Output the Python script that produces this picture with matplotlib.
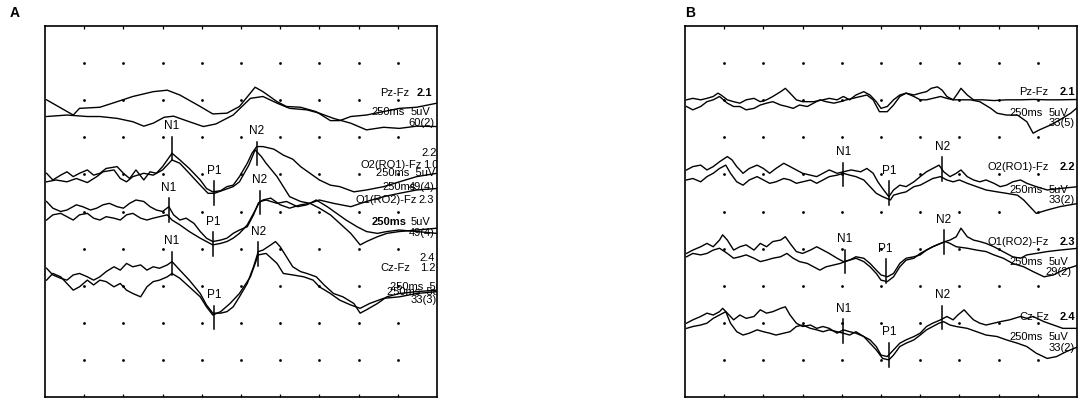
import numpy as np
import matplotlib
matplotlib.use("Agg")
import matplotlib.pyplot as plt

plt.rcParams["font.family"] = ["Liberation Sans", "DejaVu Sans"]

# traces: (time in ms, level in screen divisions), 25 ms / division, 10 divisions
A_PZ_1 = [(1, 8.01), (18, 7.60), (22, 7.78), (35, 7.81), (46, 7.96), (56, 8.10), (69, 8.23), (78, 8.27),
          (86, 8.14), (99, 7.83), (107, 7.63), (116, 7.65), (124, 7.83), (134, 8.35), (139, 8.23), (148, 7.96),
          (154, 7.83), (163, 7.81), (173, 7.69), (182, 7.45), (188, 7.45), (195, 7.56), (205, 7.60), (226, 7.78),
          (237, 7.81), (250, 7.92)]
A_PZ_2 = [(1, 7.56), (14, 7.60), (27, 7.56), (35, 7.56), (46, 7.51), (56, 7.42), (63, 7.30), (69, 7.38),
          (76, 7.54), (82, 7.57), (90, 7.45), (101, 7.29), (109, 7.36), (120, 7.60), (131, 8.05), (139, 8.10),
          (148, 7.92), (156, 7.78), (167, 7.74), (175, 7.65), (184, 7.51), (195, 7.38), (205, 7.20), (216, 7.27),
          (226, 7.24), (237, 7.30), (250, 7.29)]
A_O2_1 = [(1, 6.03), (5, 5.85), (10, 5.98), (14, 6.07), (18, 5.94), (22, 6.03), (27, 6.12), (31, 5.98),
          (35, 6.03), (39, 6.16), (46, 6.21), (50, 6.03), (54, 5.89), (58, 6.12), (63, 5.85), (67, 6.07),
          (71, 6.03), (75, 6.21), (81, 6.57), (86, 6.39), (92, 6.16), (99, 5.85), (103, 5.62), (107, 5.53),
          (112, 5.56), (116, 5.67), (120, 5.71), (124, 5.94), (129, 6.30), (132, 6.57), (135, 6.75), (139, 6.75),
          (146, 6.68), (152, 6.52), (158, 6.41), (163, 6.21), (169, 6.03), (175, 5.85), (182, 5.71), (188, 5.67),
          (197, 5.53), (205, 5.58), (216, 5.67), (226, 5.80), (237, 5.94), (250, 6.03)]
A_O2_2 = [(1, 5.80), (7, 5.85), (14, 5.80), (20, 5.89), (27, 5.78), (33, 5.94), (37, 6.07), (44, 6.12),
          (48, 5.89), (52, 5.80), (56, 5.94), (63, 6.03), (69, 5.98), (75, 6.12), (81, 6.39), (86, 6.30),
          (92, 6.03), (99, 5.71), (104, 5.49), (108, 5.49), (114, 5.58), (120, 5.67), (124, 5.80), (130, 6.25),
          (134, 6.66), (138, 6.48), (141, 6.30), (148, 5.94), (152, 5.67), (156, 5.40), (163, 5.27), (169, 5.22),
          (175, 5.31), (184, 5.22), (195, 5.13), (205, 5.27), (216, 5.40), (226, 5.49), (237, 5.58), (250, 5.62)]
A_O1_1 = [(1, 5.27), (5, 5.09), (10, 5.00), (14, 5.04), (20, 5.18), (24, 5.13), (29, 5.04), (33, 5.09),
          (37, 5.18), (41, 5.22), (46, 5.13), (50, 5.09), (54, 5.22), (58, 5.31), (63, 5.27), (67, 5.13),
          (71, 5.04), (75, 5.00), (79, 5.13), (82, 4.91), (86, 4.77), (90, 4.82), (95, 4.68), (99, 4.46),
          (103, 4.28), (107, 4.19), (112, 4.23), (116, 4.28), (120, 4.41), (124, 4.50), (129, 4.59), (133, 4.91),
          (136, 5.22), (139, 5.31), (144, 5.36), (150, 5.18), (156, 5.09), (163, 5.18), (169, 5.22), (175, 5.09),
          (182, 4.91), (188, 4.68), (195, 4.41), (201, 4.10), (205, 4.19), (212, 4.32), (218, 4.41), (226, 4.46),
          (237, 4.50), (250, 4.55)]
A_O1_2 = [(1, 4.77), (5, 4.91), (10, 4.95), (14, 4.86), (18, 4.77), (22, 4.91), (27, 4.95), (31, 4.82),
          (35, 4.77), (39, 4.86), (44, 4.82), (48, 4.77), (52, 4.91), (56, 4.95), (61, 4.82), (65, 4.77),
          (69, 4.82), (73, 4.86), (78, 4.91), (81, 4.77), (86, 4.64), (92, 4.46), (99, 4.28), (103, 4.19),
          (107, 4.10), (112, 4.14), (116, 4.19), (120, 4.28), (124, 4.41), (129, 4.64), (133, 4.95), (137, 5.27),
          (141, 5.31), (148, 5.22), (154, 5.27), (161, 5.13), (167, 5.18), (173, 5.31), (180, 5.13), (186, 4.95),
          (192, 4.77), (199, 4.59), (205, 4.46), (212, 4.41), (218, 4.46), (226, 4.50), (237, 4.46), (250, 4.41)]
A_CZ_1 = [(1, 3.47), (5, 3.29), (10, 3.20), (14, 3.15), (18, 3.29), (22, 3.33), (27, 3.24), (31, 3.15),
          (35, 3.24), (39, 3.38), (44, 3.51), (48, 3.42), (52, 3.60), (56, 3.51), (61, 3.56), (65, 3.42),
          (69, 3.51), (73, 3.47), (78, 3.56), (81, 3.65), (86, 3.42), (92, 3.15), (99, 2.79), (103, 2.48),
          (107, 2.26), (112, 2.26), (116, 2.30), (120, 2.43), (124, 2.70), (129, 3.06), (133, 3.51), (136, 3.92),
          (139, 3.96), (144, 4.10), (147, 4.19), (150, 4.05), (154, 3.78), (158, 3.51), (163, 3.38), (167, 3.33),
          (173, 3.24), (178, 3.02), (184, 2.79), (190, 2.70), (197, 2.52), (201, 2.26), (205, 2.35), (212, 2.52),
          (218, 2.70), (226, 2.79), (237, 2.84), (250, 2.88)]
A_CZ_2 = [(1, 3.15), (5, 3.33), (10, 3.24), (14, 3.06), (18, 2.88), (22, 2.97), (27, 3.15), (31, 3.02),
          (35, 3.15), (39, 3.11), (44, 2.97), (48, 3.06), (52, 2.88), (56, 2.79), (61, 2.70), (65, 2.97),
          (69, 3.11), (73, 3.15), (78, 3.24), (81, 3.33), (86, 3.20), (92, 2.97), (99, 2.70), (103, 2.43),
          (107, 2.21), (112, 2.30), (118, 2.52), (124, 2.79), (131, 3.24), (136, 3.83), (141, 3.87), (148, 3.60),
          (152, 3.33), (158, 3.29), (165, 3.24), (171, 3.15), (175, 2.97), (182, 2.79), (188, 2.61), (195, 2.48),
          (201, 2.39), (207, 2.52), (216, 2.66), (226, 2.70), (237, 2.79), (250, 2.84)]

B_PZ_1 = [(1, 8.01), (5, 8.05), (10, 8.01), (14, 8.05), (18, 8.10), (21, 8.19), (23, 8.14), (27, 8.01),
          (31, 7.96), (35, 7.92), (39, 8.01), (44, 8.05), (48, 7.96), (52, 8.01), (56, 8.10), (61, 8.23),
          (64, 8.32), (67, 8.19), (71, 8.01), (75, 7.96), (82, 7.96), (88, 8.01), (92, 8.05), (97, 8.01),
          (101, 8.10), (105, 8.01), (109, 8.14), (114, 8.23), (118, 8.14), (122, 7.96), (125, 7.78), (129, 7.83),
          (133, 8.01), (137, 8.14), (141, 8.19), (146, 8.14), (150, 8.19), (154, 8.23), (157, 8.32), (161, 8.36),
          (164, 8.27), (167, 8.10), (171, 8.01), (174, 8.19), (176, 8.32), (180, 8.14), (184, 8.01), (190, 8.01),
          (197, 7.99), (205, 8.01), (214, 8.01), (222, 8.02), (231, 8.01), (239, 8.01), (251, 8.02)]
B_PZ_2 = [(1, 7.83), (5, 7.74), (10, 7.83), (14, 7.96), (18, 8.01), (22, 8.10), (27, 7.92), (31, 7.83),
          (35, 7.83), (39, 7.74), (44, 7.78), (48, 7.87), (52, 7.92), (56, 7.96), (61, 7.87), (65, 7.83),
          (69, 7.78), (73, 7.87), (78, 7.83), (82, 7.92), (86, 8.01), (90, 7.96), (95, 7.92), (99, 7.96),
          (103, 8.01), (107, 8.05), (112, 8.10), (116, 8.14), (120, 8.01), (124, 7.69), (129, 7.69), (133, 7.87),
          (137, 8.10), (141, 8.19), (146, 8.10), (150, 8.01), (154, 8.01), (158, 8.05), (163, 8.10), (167, 8.05),
          (171, 8.01), (175, 8.01), (182, 8.01), (188, 7.96), (195, 7.78), (199, 7.65), (205, 7.60), (212, 7.60),
          (218, 7.42), (222, 7.11), (226, 7.20), (233, 7.33), (239, 7.47), (246, 7.65), (251, 7.83)]
B_O2_1 = [(1, 6.12), (5, 6.21), (10, 6.25), (14, 6.12), (18, 6.21), (22, 6.34), (27, 6.48), (30, 6.39),
          (33, 6.21), (37, 6.03), (41, 6.16), (46, 6.25), (50, 6.16), (54, 6.03), (58, 6.16), (63, 6.30),
          (67, 6.21), (71, 6.12), (75, 6.03), (80, 5.98), (84, 5.94), (88, 6.03), (92, 6.12), (97, 6.03),
          (101, 6.07), (106, 6.12), (112, 6.07), (116, 6.16), (120, 6.03), (123, 5.80), (126, 5.62), (130, 5.40),
          (133, 5.58), (137, 5.71), (141, 5.67), (146, 5.80), (150, 5.94), (154, 6.07), (158, 6.16), (162, 6.25),
          (165, 6.07), (169, 5.94), (173, 6.03), (176, 6.12), (180, 5.94), (184, 5.85), (188, 5.80), (192, 5.85),
          (197, 5.76), (201, 5.67), (205, 5.71), (209, 5.80), (214, 5.85), (218, 5.76), (224, 5.67), (231, 5.58),
          (239, 5.62), (251, 5.67)]
B_O2_2 = [(1, 5.85), (5, 5.89), (10, 5.80), (14, 5.94), (18, 6.03), (22, 6.16), (26, 6.25), (29, 6.03),
          (33, 5.80), (37, 5.71), (41, 5.85), (46, 5.94), (50, 5.85), (54, 5.76), (58, 5.80), (63, 5.89),
          (67, 5.85), (71, 5.76), (75, 5.80), (80, 5.85), (84, 5.76), (88, 5.85), (92, 5.94), (97, 5.98),
          (101, 6.03), (105, 5.98), (109, 5.94), (114, 5.85), (118, 5.67), (122, 5.49), (126, 5.40), (131, 5.31),
          (133, 5.44), (137, 5.49), (141, 5.53), (146, 5.67), (150, 5.71), (154, 5.80), (158, 5.89), (163, 5.94),
          (167, 5.85), (171, 5.80), (175, 5.85), (180, 5.76), (186, 5.67), (192, 5.58), (199, 5.53), (205, 5.49),
          (212, 5.44), (216, 5.31), (220, 5.13), (224, 4.95), (231, 5.04), (239, 5.13), (251, 5.22)]
B_O1_1 = [(1, 3.87), (5, 3.96), (10, 4.05), (14, 4.14), (18, 4.05), (22, 4.23), (24, 4.37), (27, 4.23),
          (31, 3.96), (35, 4.05), (39, 4.10), (44, 3.96), (48, 4.14), (52, 4.05), (56, 4.19), (61, 4.23),
          (64, 4.32), (67, 4.14), (71, 3.92), (75, 3.87), (80, 3.96), (84, 4.05), (88, 3.96), (92, 3.87),
          (97, 3.74), (101, 3.65), (105, 3.69), (109, 3.78), (114, 3.74), (118, 3.60), (122, 3.42), (125, 3.29),
          (129, 3.24), (133, 3.33), (137, 3.60), (141, 3.74), (146, 3.78), (150, 3.83), (154, 3.96), (158, 4.05),
          (163, 4.14), (166, 4.19), (169, 4.23), (173, 4.32), (176, 4.55), (180, 4.32), (184, 4.23), (188, 4.19),
          (192, 4.14), (197, 4.05), (201, 3.96), (205, 3.87), (209, 3.78), (214, 3.74), (218, 3.83), (224, 3.87),
          (231, 3.92), (239, 3.96), (251, 4.01)]
B_O1_2 = [(1, 3.78), (5, 3.87), (10, 3.83), (14, 3.87), (18, 3.96), (22, 4.01), (27, 3.87), (31, 3.74),
          (35, 3.78), (39, 3.83), (44, 3.74), (48, 3.65), (52, 3.69), (56, 3.74), (61, 3.78), (65, 3.87),
          (69, 3.74), (73, 3.65), (78, 3.60), (82, 3.51), (86, 3.42), (90, 3.51), (95, 3.56), (99, 3.60),
          (102, 3.65), (105, 3.69), (109, 3.74), (114, 3.65), (118, 3.51), (122, 3.33), (125, 3.15), (129, 3.11),
          (133, 3.24), (137, 3.51), (141, 3.69), (146, 3.74), (150, 3.87), (154, 3.96), (158, 4.05), (163, 4.14),
          (166, 4.19), (169, 4.14), (173, 4.05), (180, 4.01), (186, 3.96), (192, 3.92), (197, 3.83), (203, 3.74),
          (209, 3.60), (216, 3.51), (222, 3.38), (229, 3.24), (235, 3.29), (241, 3.42), (251, 3.56)]
B_CZ_1 = [(1, 1.99), (5, 2.08), (10, 2.17), (14, 2.26), (18, 2.21), (22, 2.30), (24, 2.39), (27, 2.26),
          (31, 2.08), (35, 2.21), (39, 2.12), (44, 2.17), (48, 2.35), (52, 2.26), (56, 2.30), (61, 2.39),
          (64, 2.43), (67, 2.21), (71, 1.99), (75, 1.90), (80, 1.94), (84, 1.85), (88, 1.90), (92, 1.85),
          (97, 1.72), (101, 1.81), (105, 1.76), (109, 1.72), (114, 1.63), (118, 1.54), (122, 1.36), (125, 1.13),
          (129, 1.09), (133, 1.27), (137, 1.45), (141, 1.54), (146, 1.63), (150, 1.72), (154, 1.90), (158, 1.99),
          (163, 2.08), (167, 2.17), (171, 2.08), (174, 2.21), (178, 2.35), (181, 2.21), (184, 2.08), (188, 1.99),
          (192, 1.94), (197, 1.99), (201, 2.03), (207, 2.08), (214, 2.17), (218, 2.12), (222, 2.17), (229, 2.03),
          (235, 1.94), (241, 1.85), (251, 1.85)]
B_CZ_2 = [(1, 1.85), (5, 1.90), (10, 1.94), (14, 1.99), (18, 2.12), (22, 2.21), (26, 2.30), (29, 1.99),
          (33, 1.76), (37, 1.67), (41, 1.72), (46, 1.81), (50, 1.76), (54, 1.72), (58, 1.67), (63, 1.72),
          (67, 1.76), (71, 1.90), (75, 1.94), (80, 1.85), (84, 1.81), (88, 1.76), (92, 1.81), (97, 1.76),
          (101, 1.72), (105, 1.67), (109, 1.76), (114, 1.63), (118, 1.45), (122, 1.27), (126, 1.04), (130, 1.00),
          (133, 1.13), (137, 1.36), (141, 1.45), (146, 1.54), (150, 1.67), (154, 1.81), (158, 1.90), (162, 1.99),
          (165, 2.03), (169, 1.94), (173, 1.90), (180, 1.85), (186, 1.76), (192, 1.67), (199, 1.63), (205, 1.54),
          (212, 1.45), (218, 1.36), (224, 1.18), (231, 1.04), (237, 1.09), (243, 1.22), (251, 1.36)]

# peak markers: (name, latency ms, level of marker centre in divisions)
A_PEAKS = [("N1", 81, 6.70), ("P1", 108, 5.49), ("N2", 135, 6.56),
           ("N1", 79, 5.04), ("P1", 107, 4.12), ("N2", 137, 5.24),
           ("N1", 81, 3.60), ("P1", 108, 2.14), ("N2", 136, 3.85)]
B_PEAKS = [("N1", 101, 6.00), ("P1", 130, 5.49), ("N2", 164, 6.14),
           ("N1", 102, 3.65), ("P1", 128, 3.40), ("N2", 165, 4.17),
           ("N1", 101, 1.77), ("P1", 130, 1.14), ("N2", 164, 2.14)]

# channel annotations at the right edge: (text, x ms, level, bold)
A_NOTES = [("Pz-Fz", 214, 8.19, False), ("2.1", 237, 8.19, True),
           ("250ms", 208, 7.68, False), ("5uV", 233, 7.68, False), ("60(2)", 232, 7.39, False),
           ("2.2", 240, 6.58, False), ("O2(RO1)-Fz", 201, 6.25, False), ("1.0", 241, 6.25, False),
           ("250ms  5uV", 211, 6.04, False), ("250ms", 215, 5.66, False), ("49(4)", 232, 5.66, False),
           ("O1(RO2)-Fz", 198, 5.31, False), ("2.3", 238, 5.31, False),
           ("250ms", 208, 4.72, True), ("5uV", 233, 4.72, False), ("49(4)", 232, 4.42, False),
           ("2.4", 239, 3.75, False), ("Cz-Fz", 214, 3.48, False), ("1.2", 239, 3.48, False),
           ("250ms  5uV", 220, 2.96, False), ("250ms  5uV", 218, 2.83, False), ("33(3)", 233, 2.61, False)]
B_NOTES = [("Pz-Fz", 213, 8.22, False), ("2.1", 239, 8.22, True),
           ("250ms", 207, 7.65, False), ("5uV", 232, 7.65, False), ("33(5)", 232, 7.39, False),
           ("O2(RO1)-Fz", 193, 6.20, False), ("2.2", 239, 6.20, True),
           ("250ms", 207, 5.58, False), ("5uV", 232, 5.58, False), ("33(2)", 232, 5.31, False),
           ("O1(RO2)-Fz", 193, 4.18, False), ("2.3", 239, 4.18, True),
           ("250ms", 207, 3.64, False), ("5uV", 232, 3.64, False), ("29(2)", 230, 3.37, False),
           ("Cz-Fz", 213, 2.16, False), ("2.4", 239, 2.16, True),
           ("250ms", 207, 1.62, False), ("5uV", 232, 1.62, False), ("33(2)", 232, 1.32, False)]

A_TRACES = [A_PZ_1, A_PZ_2, A_O2_1, A_O2_2, A_O1_1, A_O1_2, A_CZ_1, A_CZ_2]
B_TRACES = [B_PZ_1, B_PZ_2, B_O2_1, B_O2_2, B_O1_1, B_O1_2, B_CZ_1, B_CZ_2]

fig = plt.figure(figsize=(10.84, 4.03), dpi=100)
axA = fig.add_axes([45 / 1084, 6 / 403, 392 / 1084, 371 / 403])
axB = fig.add_axes([685 / 1084, 6 / 403, 392 / 1084, 371 / 403])

for ax, traces, peaks, notes in [(axA, A_TRACES, A_PEAKS, A_NOTES), (axB, B_TRACES, B_PEAKS, B_NOTES)]:
    ax.set_xlim(0, 250)
    ax.set_ylim(0, 10)
    gx, gy = np.meshgrid(np.arange(25, 250, 25), np.arange(1, 10))
    ax.scatter(gx.ravel(), gy.ravel(), s=4, color="black", lw=0)
    for tr in traces:
        t, v = np.array(tr).T
        ax.plot(t, v, color="black", lw=1.0)
    for name, lat, lev in peaks:
        ax.plot([lat, lat], [lev - 0.32, lev + 0.32], color="black", lw=1.1)
        ax.text(lat, lev + 0.6, name, ha="center", va="center", fontsize=8.5)
    for txt, x, lev, bold in notes:
        ax.text(x, lev, txt, ha="left", va="center", fontsize=8,
                fontweight="bold" if bold else "normal", clip_on=True)
    ax.set_xticks(np.arange(25, 250, 25))
    ax.set_yticks([])
    ax.tick_params(axis="x", direction="in", top=True, bottom=True, length=2.5, width=0.9,
                   labelbottom=False)
    for s in ax.spines.values():
        s.set_linewidth(1.2)

fig.text(15 / 1084, 1 - 13 / 403, "A", fontsize=10, fontweight="bold", ha="center", va="center")
fig.text(690 / 1084, 1 - 13 / 403, "B", fontsize=10, fontweight="bold", ha="center", va="center")

fig.savefig("out.png", dpi=100)
